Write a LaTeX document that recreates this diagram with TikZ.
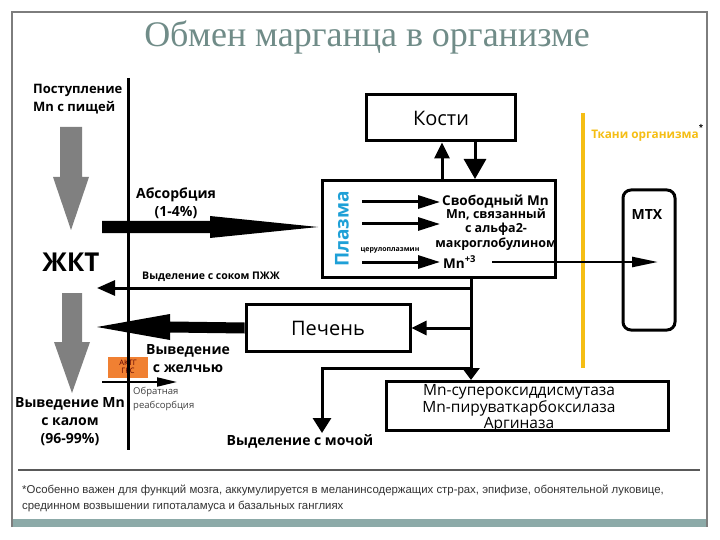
\documentclass[tikz,border=0pt]{standalone}
\usepackage{fontspec}
\setmainfont{Open Sans}
\newfontfamily\titlefont{Liberation Serif}
\newfontfamily\footfont{Liberation Sans}
\usetikzlibrary{arrows.meta,calc}
\definecolor{titlecol}{RGB}{112,140,136}
\definecolor{barcol}{RGB}{140,170,168}
\definecolor{framecol}{RGB}{125,125,125}
\definecolor{plasmablue}{RGB}{30,160,215}
\definecolor{tissuegold}{RGB}{245,190,20}
\definecolor{orangebox}{RGB}{240,128,50}
\definecolor{grayarrow}{RGB}{128,128,128}
\begin{document}
\begin{tikzpicture}[x=1pt,y=-1pt,
  boxnode/.style={draw, line width=3pt, inner sep=0pt},
  lblb/.style={font=\bfseries\fontsize{14}{18}\selectfont, inner sep=0pt},
  conn/.style={line width=3pt}
]
\useasboundingbox (0,0) rectangle (720,540);
\fill[white] (0,0) rectangle (720,540);
% frame
\fill[barcol] (12,519) rectangle (707,527);
\draw[framecol, line width=1.5pt] (12,527) -- (12,12) -- (707,12) -- (707,527);
\draw[black!65, line width=1.5pt] (18,470) -- (700,470);
% title
\node[font=\titlefont\fontsize{36}{38}\selectfont, text=titlecol] (title) at (367,37) {Обмен марганца в организме};

% boxes
\node[boxnode, minimum width=149pt, minimum height=46pt, font=\fontsize{20}{22}\selectfont] (kosti) at (441,118) {Кости};
\node[boxnode, minimum width=233pt, minimum height=97pt] (plasma) at (439,229) {};
\node[boxnode, rounded corners=8pt, minimum width=52pt, minimum height=140pt] (mtx) at (649,260) {};
\node[boxnode, minimum width=164pt, minimum height=47pt, font=\fontsize{20}{22}\selectfont] (pechen) at (328,328) {Печень};
\node[boxnode, minimum width=282pt, minimum height=49pt] (enz) at (527,406) {};
\node[font=\fontsize{15.5}{14.5}\selectfont, align=center, inner sep=0pt] (enzt) at (519,408.5) {Mn-супероксиддисмутаза\\Mn-пируваткарбоксилаза\\Аргиназа};
\node[fill=orangebox, minimum width=40pt, minimum height=21pt, inner sep=0pt, font=\fontsize{7.5}{8}\selectfont, text=red!35!black, align=center] (aktg) at (128,367) {АКТГ\\ГКС};

% coordinates
\coordinate (vtop) at (128,78);
\coordinate (vbot) at (128,450);
\coordinate (g1a) at (71,127);
\coordinate (g1b) at (71,230);
\coordinate (g2a) at (72,293);
\coordinate (g2b) at (72,393);
\coordinate (absA) at (102,227);
\coordinate (absB) at (318,227);
\coordinate (bileB) at (97,327);
\coordinate (j1) at (471,288);
\coordinate (j2) at (471,328);
\coordinate (j3) at (471,368);
\coordinate (pjj) at (97,288);
\coordinate (ur1) at (322,368);
\coordinate (ur2) at (322,433);
\coordinate (reA) at (102,382);
\coordinate (reB) at (177,382);
\coordinate (yA) at (583,113);
\coordinate (yB) at (583,368);
\coordinate (mtxIn) at (658,262);

% vertical wall line and yellow line
\draw[line width=3pt] (vtop) -- (vbot);
\draw[tissuegold, line width=4pt] (yA) -- (yB);

% gray arrows (food in, feces out)
\fill[grayarrow] ($(g1a)+(-11,0)$) -- ($(g1a)+(11,0)$) -- ($(g1b)+(11,-53)$) -- ($(g1b)+(18,-53)$)
  -- (g1b) -- ($(g1b)+(-18,-53)$) -- ($(g1b)+(-11,-53)$) -- cycle;
\fill[grayarrow] ($(g2a)+(-10,0)$) -- ($(g2a)+(10,0)$) -- ($(g2b)+(10,-51)$) -- ($(g2b)+(18,-51)$)
  -- (g2b) -- ($(g2b)+(-18,-51)$) -- ($(g2b)+(-10,-51)$) -- cycle;

% fat black arrows (absorption, bile)
\fill ($(absA)+(0,-6)$) -- ($(absB)+(-108,-6)$) -- ($(absB)+(-108,-11)$) -- (absB)
  -- ($(absB)+(-108,11)$) -- ($(absB)+(-108,6)$) -- ($(absA)+(0,6)$) -- cycle;
\fill ($(pechen.west)+(0,-5.5)$) -- ($(bileB)+(73,-5.5)$) -- ($(bileB)+(73,-13)$) -- (bileB)
  -- ($(bileB)+(73,13)$) -- ($(bileB)+(73,5.5)$) -- ($(pechen.west)+(0,5.5)$) -- cycle;

% bones arrows
\draw[conn, -{Triangle[length=16pt,width=15pt]}] (plasma.north -| 442,0) -- (kosti.south -| 442,0);
\draw[conn, -{Triangle[length=20pt,width=22pt]}] (kosti.south -| 475,0) -- (plasma.north -| 475,0);

% plasma outflow
\draw[conn, -{Triangle[length=12pt,width=17pt]}] (plasma.south -| j1) -- (enz.north -| j1);
\draw[conn, -{Triangle[length=18pt,width=15pt]}] (j1) -- (pjj);
\draw[conn, -{Triangle[length=15pt,width=14pt]}] (j2) -- (pechen.east);
\draw[conn, -{Triangle[length=15pt,width=18pt]}] (j3) -- (ur1) -- (ur2);

% reabsorption arrow
\draw[line width=2pt, -{Triangle[length=20pt,width=9pt]}] (reA) -- (reB);

% plasma contents
\node[rotate=90, text=plasmablue, font=\bfseries\fontsize{19}{22}\selectfont, inner sep=0pt] (plz) at (342,229) {Плазма};
\coordinate (pa1) at (362,202); \coordinate (pb1) at (440,202);
\coordinate (pa2) at (362,224); \coordinate (pb2) at (440,224);
\coordinate (pa3) at (362,262); \coordinate (pb3) at (440,262);
\draw[conn, -{Triangle[length=22pt,width=13pt]}] (pa1) -- (pb1);
\draw[conn, -{Triangle[length=22pt,width=13pt]}] (pa2) -- (pb2);
\draw[conn, -{Triangle[length=22pt,width=13pt]}] (pa3) -- (pb3);
\node[font=\bfseries\fontsize{13.5}{15}\selectfont, inner sep=0pt, anchor=west] (free) at (442,202) {Свободный Mn};
\node[font=\bfseries\fontsize{12.5}{14.5}\selectfont, align=center, inner sep=0pt] (bound) at (496,229.5) {Mn, связанный\\с альфа2-\\макроглобулином};
\node[font=\bfseries\fontsize{7}{8}\selectfont, inner sep=0pt] (cerulo) at (390,250) {церулоплазмин};
\node[font=\bfseries\fontsize{13.5}{15}\selectfont, inner sep=0pt, anchor=west] (mn3) at (443,262) {Mn\textsuperscript{+3}};
\coordinate (mnOut) at (492,262);
\draw[line width=2.5pt, -{Triangle[length=26pt,width=10pt]}] (mnOut) -- (mtxIn);

% labels
\node[font=\bfseries\fontsize{13}{18}\selectfont, inner sep=0pt, align=left, anchor=west] (food) at (33,99) {Поступление\\Mn с пищей};
\node[font=\bfseries\fontsize{26}{28}\selectfont, inner sep=0pt] (gkt) at (71,262) {ЖКТ};
\node[lblb, align=center] (absl) at (176,203) {Абсорбция\\(1-4\%)};
\node[font=\bfseries\fontsize{10.5}{12}\selectfont, inner sep=0pt] (pjjl) at (211,277) {Выделение с соком ПЖЖ};
\node[lblb, align=center] (bilel) at (188,359) {Выведение\\с желчью};
\node[font=\fontsize{9.5}{14}\selectfont, text=black!75, align=left, inner sep=0pt, anchor=west] (reabs) at (133,399) {Обратная\\реабсорбция};
\node[lblb, align=center] (feces) at (70,422) {Выведение Mn\\с калом\\(96-99\%)};
\node[lblb] (urine) at (300,441) {Выделение с мочой};
\node[text=tissuegold, font=\bfseries\fontsize{11.8}{12}\selectfont, inner sep=0pt, anchor=east] (tissue) at (699,136) {Ткани организма};
\node[font=\bfseries\fontsize{8}{8}\selectfont, inner sep=0pt] (star) at (701,127) {*};
\node[font=\bfseries\fontsize{14}{14}\selectfont, inner sep=0pt] (mtxl) at (647,215) {МТХ};

% footnote
\node[font=\footfont\fontsize{11.4}{16}\selectfont, text=black!80, align=left, inner sep=0pt, anchor=west] (note) at (22,498) {*Особенно важен для функций мозга, аккумулируется в меланинсодержащих стр-рах, эпифизе, обонятельной луковице,\\срединном возвышении гипоталамуса и базальных ганглиях};
\end{tikzpicture}
\end{document}
